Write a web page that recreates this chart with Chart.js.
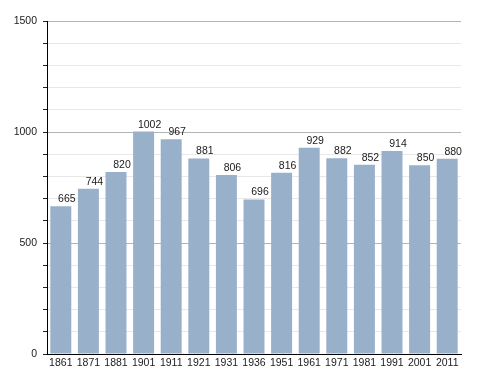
<!DOCTYPE html>
<html>
<head>
<meta charset="utf-8">
<script src="https://cdn.jsdelivr.net/npm/chart.js@4"></script>
<style>
  body { margin: 0; background: #fff; }
  canvas { display: block; }
</style>
</head>
<body>
<canvas id="chart" width="488" height="373"></canvas>
<script>
// census years and population
const years = ['1861', '1871', '1881', '1901', '1911', '1921', '1931', '1936', '1951', '1961', '1971', '1981', '1991', '2001', '2011'];
const population = [665, 744, 820, 1002, 967, 881, 806, 696, 816, 929, 882, 852, 914, 850, 880];
const yMax = 1500;
const yStep = 100;
const yLabelEvery = 500;

// value labels drawn above each bar
const barLabels = {
    id: 'barLabels',
    afterDatasetsDraw(chart) {
        const ctx = chart.ctx;
        const meta = chart.getDatasetMeta(0);
        ctx.save();
        ctx.font = '10.5px "Liberation Sans", Arial, sans-serif';
        ctx.fillStyle = '#1a1a1a';
        ctx.textAlign = 'center';
        ctx.textBaseline = 'alphabetic';
        meta.data.forEach((bar, i) => {
            ctx.fillText(String(population[i]), bar.x + 6, bar.y - 4);
        });
        ctx.restore();
    }
};

new Chart(document.getElementById('chart'), {
    type: 'bar',
    data: {
        labels: years,
        datasets: [{
            data: population,
            backgroundColor: '#99b0cb',
            borderWidth: 0,
            barPercentage: 0.76,
            categoryPercentage: 1
        }]
    },
    options: {
        responsive: false,
        animation: false,
        devicePixelRatio: 1,
        layout: { padding: { top: 21, right: 27, bottom: 0, left: 0 } },
        plugins: { legend: { display: false }, tooltip: { enabled: false } },
        scales: {
            x: {
                grid: { display: false, drawTicks: false },
                border: { color: '#000', width: 1 },
                ticks: {
                    color: '#1a1a1a',
                    padding: 3,
                    maxRotation: 0,
                    autoSkip: false,
                    font: { family: '"Liberation Sans", Arial, sans-serif', size: 10.5 }
                },
                afterFit(scale) { scale.height = 19; }
            },
            y: {
                min: 0,
                max: yMax,
                grid: {
                    color: (c) => (c.tick && c.tick.value % yLabelEvery === 0) ? '#b4b4b4' : '#e8e8e8',
                    tickColor: '#222',
                    tickLength: 4
                },
                border: { color: '#000', width: 1 },
                ticks: {
                    stepSize: yStep,
                    autoSkip: false,
                    padding: 6,
                    color: '#1a1a1a',
                    font: { family: '"Liberation Sans", Arial, sans-serif', size: 10.5 },
                    callback: (v) => v % yLabelEvery === 0 ? v : ''
                },
                afterFit(scale) { scale.width = 47; }
            }
        }
    },
    plugins: [barLabels]
});
</script>
</body>
</html>
